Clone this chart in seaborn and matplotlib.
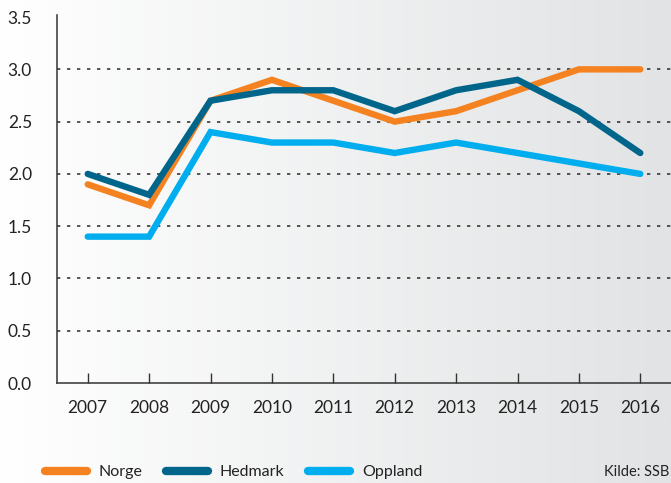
import numpy as np
import pandas as pd
import matplotlib
matplotlib.use("Agg")
import matplotlib.pyplot as plt
import seaborn as sns
from matplotlib.lines import Line2D

years = [2007, 2008, 2009, 2010, 2011, 2012, 2013, 2014, 2015, 2016]
norge = [1.9, 1.7, 2.7, 2.9, 2.7, 2.5, 2.6, 2.8, 3.0, 3.0]
hedmark = [2.0, 1.8, 2.7, 2.8, 2.8, 2.6, 2.8, 2.9, 2.6, 2.2]
oppland = [1.4, 1.4, 2.4, 2.3, 2.3, 2.2, 2.3, 2.2, 2.1, 2.0]
series_names = ["Norge", "Hedmark", "Oppland"]
colors = {"Norge": "#f58220", "Hedmark": "#00658a", "Oppland": "#00aeef"}
y_ticks = [0.0, 0.5, 1.0, 1.5, 2.0, 2.5, 3.0, 3.5]

df = pd.DataFrame({"year": years, "Norge": norge, "Hedmark": hedmark, "Oppland": oppland})
long = df.melt(id_vars="year", var_name="serie", value_name="verdi")

sns.set_theme(style="white")
plt.rcParams["font.family"] = ["Lato", "DejaVu Sans"]

fig = plt.figure(figsize=(6.71, 4.83), dpi=100)

# background gradient, white on the left to light grey on the right
bg = fig.add_axes([0, 0, 1, 1], zorder=-10)
grad = np.linspace(0, 1, 256).reshape(1, -1)
cmap = matplotlib.colors.LinearSegmentedColormap.from_list("bg", ["#ffffff", "#e1e3e4"])
bg.imshow(grad, aspect="auto", cmap=cmap, extent=[0, 1, 0, 1])
bg.set_axis_off()

ax = fig.add_axes([57 / 671, 1 - 383 / 483, 1 - 57 / 671, (383 - 15) / 483])
ax.patch.set_alpha(0)

# draw order: Oppland, Norge, then Hedmark on top
for name in ["Oppland", "Norge", "Hedmark"]:
    sub = long[long["serie"] == name]
    sns.lineplot(data=sub, x="year", y="verdi", color=colors[name], lw=4.6,
                 ax=ax, solid_capstyle="round", solid_joinstyle="miter", legend=False)

ax.set_xlim(2006.5, 2016.5)
ax.set_ylim(0, 3.52)
ax.set_xticks(years)
ax.set_yticks(y_ticks)
ax.set_yticklabels([f"{v:.1f}" for v in y_ticks])
ax.set_xlabel("")
ax.set_ylabel("")

for v in y_ticks[1:-1]:
    ax.axhline(v, color="#3a3a3a", lw=1.2, ls=(0, (2, 4)), zorder=0)

for s in ["top", "right"]:
    ax.spines[s].set_visible(False)
for s in ["left", "bottom"]:
    ax.spines[s].set_color("#333333")
    ax.spines[s].set_linewidth(1.1)

ax.tick_params(axis="x", direction="in", length=7, width=1, color="#333333",
               pad=12, labelsize=12.5, labelcolor="#222222", bottom=True)
ax.tick_params(axis="y", length=0, pad=18, labelsize=12.5, labelcolor="#222222")

handles = [Line2D([0], [0], color=colors[n], lw=6, solid_capstyle="round") for n in series_names]
fig.legend(handles, series_names, loc="center left", bbox_to_anchor=(45 / 671, 11 / 483), ncol=3,
           frameon=False, fontsize=11.5, handlelength=2.6, handletextpad=0.75, columnspacing=1.5,
           borderpad=0, borderaxespad=0, labelcolor="#222222")
fig.text(0.998, 11 / 483, "Kilde: SSB", ha="right", va="center", fontsize=10.5, color="#222222")

fig.savefig("out.png", dpi=100)
